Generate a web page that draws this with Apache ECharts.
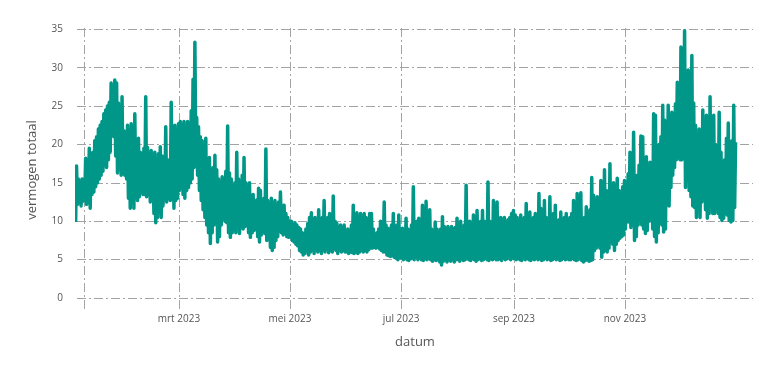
<!DOCTYPE html>
<html>
<head>
<meta charset="utf-8">
<script src="https://cdn.jsdelivr.net/npm/echarts@6/dist/echarts.min.js"></script>
<style>html,body{margin:0;padding:0;background:#fff}#c{width:784px;height:375px}</style>
</head>
<body>
<div id="c"></div>
<script>
// First day of the consecutive daily readings (year, month index, day)
const startDate = [2023, 0, 3];
// Consecutive daily readings (daily high / daily low), grouped in roughly monthly blocks
const hiJan = [17.2,15.5,15.0,15.5,15.2,18.2,14.0,19.5,18.8,19.0,20.5,21.0,22.0,22.5,23.0,24.0,24.5,25.0,25.5,28.0,26.0,28.4,28.0,25.4,24.0,26.2,21.8,21.5];
const loJan = [9.9,12.2,12.5,12.0,12.6,12.8,12.2,13.0,11.7,13.5,13.8,14.5,15.0,15.5,16.0,16.5,17.5,17.0,18.0,19.0,21.5,21.0,18.5,16.3,19.0,16.0,16.2,16.0];
const hiFeb = [22.5,21.0,22.7,20.0,24.0,19.5,20.8,19.0,18.5,19.5,26.2,19.6,18.5,19.2,18.0,19.0,17.5,18.8,19.7,18.5,17.0,22.3,18.0,16.5,25.5,21.8,22.5,21.5];
const loFeb = [15.5,13.0,11.7,13.0,11.7,14.0,12.7,13.2,14.0,13.5,13.5,13.2,14.0,12.5,13.0,11.0,9.8,10.5,12.0,10.5,12.0,13.0,12.5,13.0,12.7,13.5,11.7,12.7];
const hiMar = [22.7,23.0,22.5,23.0,22.0,23.0,22.5,24.4,28.5,33.3,23.5,22.3,21.0,20.5,19.0,20.8,17.0,18.3,16.0,17.0,18.6,16.7,15.5,14.5,15.8,15.0,16.5,22.4,16.3,15.5,14.5];
const loMar = [13.0,14.0,14.5,13.5,13.0,14.0,14.4,15.0,15.5,17.0,18.3,16.0,14.0,12.7,11.5,10.5,9.5,8.5,7.1,8.5,9.5,9.7,7.3,8.0,9.5,10.5,10.0,9.8,8.5,7.9,8.5];
const hiApr = [15.0,19.0,15.5,14.5,16.0,18.3,15.0,14.5,15.0,13.2,13.5,12.5,12.8,14.3,14.0,12.0,13.0,19.4,12.7,12.0,13.0,12.0,12.7,11.5,12.5,13.8,12.0,12.1,11.0,10.5,10.0];
const loApr = [9.0,8.5,9.5,8.4,9.5,9.0,9.3,9.5,8.5,7.9,8.5,8.8,9.0,8.0,7.3,8.2,8.5,8.4,7.5,8.0,6.6,6.2,6.6,7.5,8.0,8.8,8.5,8.2,8.4,8.0,7.9];
const hiMay = [10.0,9.5,9.8,9.5,9.2,9.0,8.5,8.4,9.0,9.7,10.5,11.1,9.5,10.5,10.0,11.5,9.5,10.5,12.7,10.0,10.5,11.0,9.8,13.3,10.0,9.7,9.0,9.5,8.8,9.5,8.8];
const loMay = [8.0,7.5,7.3,7.0,6.8,6.2,6.0,5.6,5.8,6.2,5.6,6.0,6.3,5.8,6.5,6.0,6.2,5.8,6.3,6.0,6.6,5.9,6.2,6.0,6.5,6.2,5.8,6.3,6.0,6.2,6.0];
const hiJun = [9.0,8.5,9.5,12.1,10.0,11.1,10.5,11.0,9.5,11.0,10.5,9.5,11.0,11.0,9.0,8.0,8.5,9.0,10.0,9.5,12.5,9.5,9.1,9.0,9.5,11.0,9.0,9.5,10.8,9.0];
const loJun = [6.0,5.8,6.0,5.9,5.8,6.0,5.8,6.0,6.2,6.0,6.2,6.0,6.3,6.5,6.5,6.6,6.5,6.6,6.4,6.2,6.0,6.0,5.6,5.5,5.4,5.5,5.3,5.2,5.0,5.2];
const hiJul = [9.1,8.8,10.4,9.0,8.8,9.5,14.5,9.0,10.0,10.4,9.5,12.1,9.0,12.6,9.5,11.5,9.0,8.8,9.9,9.0,8.5,9.0,10.6,9.3,9.0,9.3,8.8,9.3,9.0,9.2,10.4];
const loJul = [5.3,5.0,5.2,5.0,4.9,5.1,5.2,5.0,5.3,5.0,5.2,5.0,4.9,5.1,5.0,5.2,5.0,4.8,5.0,4.9,5.0,4.7,4.3,4.8,5.0,4.7,5.0,4.8,5.0,4.7,5.0];
const hiAug = [9.5,10.0,9.0,9.5,14.7,9.0,10.0,9.5,10.8,9.5,11.4,9.0,10.0,11.4,10.0,9.5,15.1,10.0,9.5,12.7,10.0,12.5,10.0,10.5,10.2,10.5,9.5,10.2,10.5,11.0,11.4,10.8];
const loAug = [5.0,4.8,5.1,4.9,5.0,5.2,5.0,4.9,5.1,5.0,4.8,5.0,5.1,4.9,5.0,5.2,5.0,4.9,5.1,5.0,5.2,5.0,5.0,5.1,4.9,5.2,5.0,5.1,5.3,5.0,5.2,5.1];
const hiSep = [10.5,10.0,10.8,10.2,10.5,12.3,10.0,11.2,10.0,10.5,11.0,10.0,13.6,11.7,10.0,12.7,10.5,10.0,13.2,10.5,11.0,12.1,10.0,10.2,11.2,10.0,10.5,11.0,10.0,10.5];
const loSep = [5.0,5.2,5.0,4.9,5.1,5.0,5.2,5.0,4.9,5.1,5.0,5.2,5.0,5.1,4.9,5.0,5.2,5.0,5.1,4.9,5.0,5.2,5.0,5.1,4.9,5.0,5.2,5.0,5.1,5.0];
const hiOct = [11.0,12.7,10.5,13.6,11.0,13.7,10.0,10.5,11.9,10.0,11.5,15.7,13.4,12.0,13.2,12.5,15.3,12.0,16.7,14.0,13.0,17.5,14.0,15.0,13.5,15.6,14.0,13.8,14.5,15.3,14.5];
const loOct = [5.0,5.2,5.0,4.9,5.0,5.1,4.9,4.7,4.9,5.0,4.8,4.9,5.0,6.2,6.5,6.9,6.5,5.3,6.0,6.2,6.0,6.5,7.3,7.0,6.2,7.0,7.5,7.8,8.0,8.2,9.0];
const hiNov = [16.2,19.0,15.8,21.6,15.5,16.0,17.3,21.1,21.0,17.0,18.4,16.5,17.7,17.5,24.0,23.8,19.2,20.0,21.0,25.1,23.2,21.0,25.1,22.1,24.2,22.5,25.3,28.1,25.4,32.7];
const loNov = [9.9,9.9,9.2,9.9,7.5,8.0,9.5,10.1,9.5,9.0,8.4,8.8,10.0,10.1,9.0,8.0,7.3,8.5,9.8,9.5,8.6,9.0,12.5,12.0,14.4,16.0,17.0,18.0,18.3,18.0];
const hiDec = [30.6,34.8,28.5,29.7,26.0,31.6,25.4,22.5,21.2,22.0,21.5,24.5,22.0,23.8,21.0,26.2,21.2,23.8,20.0,18.0,24.2,19.0,16.2,18.0,20.8,22.8,17.0,20.5,25.1,20.3];
const loDec = [18.0,18.8,14.4,16.0,14.0,13.2,12.0,11.8,10.5,12.0,10.5,12.5,13.0,11.5,10.4,11.0,12.0,11.0,11.0,11.5,11.0,10.5,10.1,10.4,11.0,10.8,10.1,9.9,10.1,11.8];

// Axis ticks
const yTicks = [0, 5, 10, 15, 20, 25, 30, 35];
const xGridDates = ['2023-01-08', '2023-03-01', '2023-05-01', '2023-07-01', '2023-09-01', '2023-11-01'];
const xLabelDates = ['2023-03-01', '2023-05-01', '2023-07-01', '2023-09-01', '2023-11-01'];
const xLabels = ['mrt 2023', 'mei 2023', 'jul 2023', 'sep 2023', 'nov 2023'];

function ts(s) { const p = s.split('-').map(Number); return new Date(p[0], p[1] - 1, p[2]).getTime(); }

const hiAll = [].concat(hiJan, hiFeb, hiMar, hiApr, hiMay, hiJun, hiJul, hiAug, hiSep, hiOct, hiNov, hiDec);
const loAll = [].concat(loJan, loFeb, loMar, loApr, loMay, loJun, loJul, loAug, loSep, loOct, loNov, loDec);
const seriesData = [];
for (let i = 0; i < hiAll.length; i++) {
  seriesData.push([new Date(startDate[0], startDate[1], startDate[2] + i, 6).getTime(), loAll[i]]);
  seriesData.push([new Date(startDate[0], startDate[1], startDate[2] + i, 18).getTime(), hiAll[i]]);
}

const labelTs = xLabelDates.map(ts);
const gridLine = { show: true, lineStyle: { color: '#a3a3a3', width: 1, type: [9, 3, 2, 3] } };

const chart = echarts.init(document.getElementById('c'), null, { renderer: 'canvas' });
chart.setOption({
  animation: false,
  backgroundColor: '#fff',
  grid: { left: 77, right: 31, top: 28, bottom: 63, containLabel: false },
  xAxis: {
    type: 'value',
    min: ts('2023-01-04'),
    max: new Date(2024, 0, 10, 8).getTime(),
    scale: true,
    name: 'datum',
    nameLocation: 'middle',
    nameGap: 24,
    nameTextStyle: { fontFamily: 'Open Sans', fontSize: 13, color: '#555' },
    axisLine: { show: false },
    axisTick: { show: false, customValues: xGridDates.map(ts) },
    axisLabel: {
      customValues: labelTs,
      margin: 2,
      fontFamily: 'Open Sans', fontSize: 10, color: '#555',
      formatter: function (v) {
        let k = -1;
        for (let j = 0; j < labelTs.length; j++) { if (Math.abs(labelTs[j] - v) < 1000) k = j; }
        return k >= 0 ? xLabels[k] : '';
      }
    },
    splitLine: gridLine
  },
  yAxis: {
    type: 'value',
    min: -1.82,
    max: 35.17,
    name: 'vermogen totaal',
    nameLocation: 'middle',
    nameGap: 38,
    nameTextStyle: { fontFamily: 'Open Sans', fontSize: 13, color: '#555' },
    axisLine: { show: false },
    axisTick: { show: false, customValues: yTicks },
    axisLabel: { customValues: yTicks, margin: 14, fontFamily: 'Open Sans', fontSize: 10, color: '#555' },
    splitLine: gridLine
  },
  series: [{
    type: 'line',
    data: seriesData,
    showSymbol: false,
    symbol: 'none',
    clip: false,
    sampling: false,
    lineStyle: { color: '#009688', width: 3.5, join: 'round' },
    itemStyle: { color: '#009688' }
  }]
});
</script>
</body>
</html>
